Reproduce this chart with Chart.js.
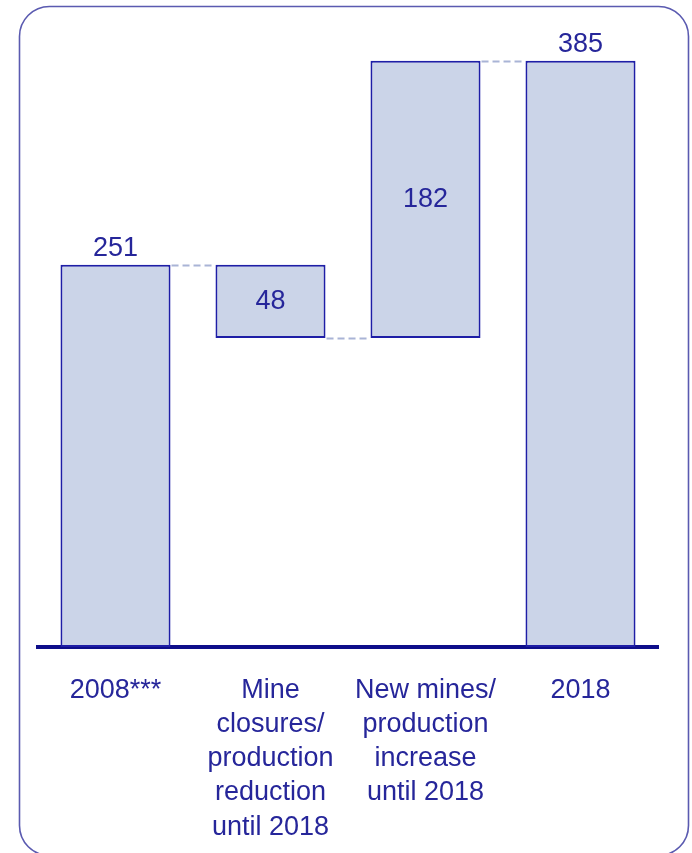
<!DOCTYPE html>
<html>
<head>
<meta charset="utf-8">
<script src="https://cdn.jsdelivr.net/npm/chart.js@4.4.1/dist/chart.umd.min.js"></script>
<style>
  html, body { margin: 0; padding: 0; background: #fff; }
  canvas { display: block; }
</style>
</head>
<body>
<canvas id="chart" width="692" height="853"></canvas>
<script>
const categories = [
  ['2008***'],
  ['Mine', 'closures/', 'production', 'reduction', 'until 2018'],
  ['New mines/', 'production', 'increase', 'until 2018'],
  ['2018']
];
const values = [251, -48, 182, 385];
const isTotal = [true, false, false, true];

const NAVY = '#1e1ea6';
const TEXT = '#26269a';
const FILL = '#cbd4e8';
const DASH = '#a9b4d6';
const FONT = '"Liberation Sans", Arial, sans-serif';

// turn deltas into floating [from, to] ranges
let running = 0;
const ranges = values.map((v, i) => {
  if (isTotal[i]) { running = v; return [0, v]; }
  const from = running;
  running += v;
  return [from, running];
});

const byId = (id) => document.getElementById(id);

const frame = {
  id: 'frame',
  beforeDraw(chart) {
    const ctx = chart.ctx;
    ctx.save();
    ctx.strokeStyle = '#5a5ab0';
    ctx.lineWidth = 1.6;
    ctx.beginPath();
    ctx.roundRect(19.5, 6.5, 669, 849, 30);
    ctx.stroke();
    ctx.restore();
  }
};

const connectors = {
  id: 'connectors',
  afterDatasetsDraw(chart) {
    const ctx = chart.ctx;
    const bars = chart.getDatasetMeta(0).data;
    const y = chart.scales.y;
    ctx.save();
    ctx.strokeStyle = DASH;
    ctx.lineWidth = 2;
    ctx.setLineDash([7, 4]);
    for (let i = 0; i < bars.length - 1; i++) {
      const level = ranges[i][1];
      const py = Math.round(y.getPixelForValue(level)) + 0.5;
      const x1 = bars[i].x + bars[i].width / 2 + 1;
      const x2 = bars[i + 1].x - bars[i + 1].width / 2 - 1;
      ctx.beginPath();
      ctx.moveTo(x1, py);
      ctx.lineTo(x2, py);
      ctx.stroke();
    }
    ctx.restore();
  }
};

const valueLabels = {
  id: 'valueLabels',
  afterDatasetsDraw(chart) {
    const ctx = chart.ctx;
    const bars = chart.getDatasetMeta(0).data;
    const y = chart.scales.y;
    ctx.save();
    ctx.fillStyle = TEXT;
    ctx.font = '27px ' + FONT;
    ctx.textAlign = 'center';
    bars.forEach((bar, i) => {
      const [a, b] = ranges[i];
      const text = String(Math.abs(values[i]));
      if (isTotal[i]) {
        ctx.textBaseline = 'alphabetic';
        ctx.fillText(text, bar.x, y.getPixelForValue(b) - 9);
      } else {
        ctx.textBaseline = 'middle';
        ctx.fillText(text, bar.x, (y.getPixelForValue(a) + y.getPixelForValue(b)) / 2);
      }
    });
    ctx.restore();
  }
};

new Chart(byId('chart'), {
  type: 'bar',
  data: {
    labels: categories,
    datasets: [{
      data: ranges,
      backgroundColor: FILL,
      borderColor: NAVY,
      borderWidth: 2,
      borderSkipped: false,
      barPercentage: 0.71,
      categoryPercentage: 1
    }]
  },
  options: {
    responsive: false,
    animation: false,
    layout: { padding: { left: 38, right: 34, top: 38, bottom: 0 } },
    plugins: { legend: { display: false }, tooltip: { enabled: false } },
    scales: {
      x: {
        grid: { display: false, drawTicks: false },
        border: { display: true, color: '#0e0e8a', width: 4 },
        ticks: {
          color: TEXT,
          font: { family: FONT, size: 27, lineHeight: 1.27 },
          padding: 26,
          maxRotation: 0,
          autoSkip: false
        },
        afterFit(axis) { axis.height = 206; }
      },
      y: {
        display: false,
        min: 0,
        max: 400
      }
    }
  },
  plugins: [frame, connectors, valueLabels]
});
</script>
</body>
</html>
